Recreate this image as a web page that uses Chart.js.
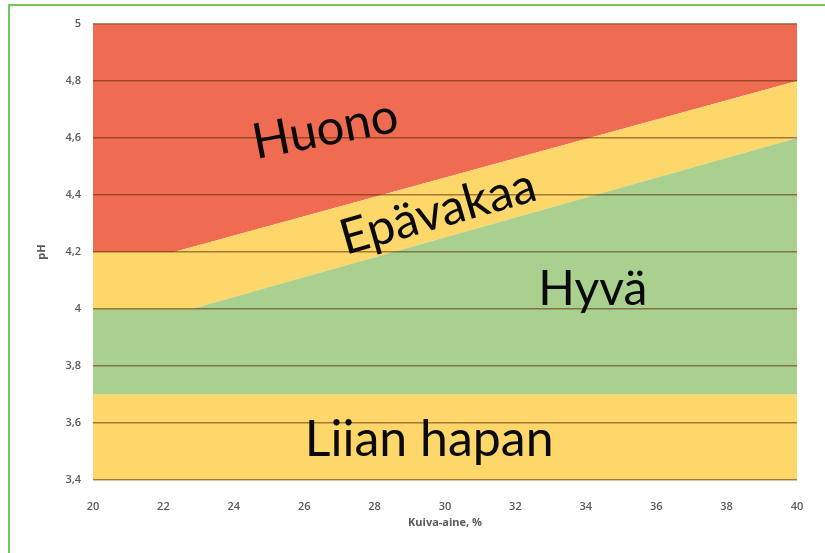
<!DOCTYPE html>
<html>
<head>
<meta charset="utf-8">
<script src="https://cdn.jsdelivr.net/npm/chart.js@4.4.1/dist/chart.umd.min.js"></script>
<style>
  html, body { margin: 0; padding: 0; background: #fff; }
  #wrap { position: relative; width: 825px; height: 553px; overflow: hidden; }
  #frame { position: absolute; left: 8px; top: 4px; width: 830px; height: 560px;
           border-left: 2px solid #76c45f; border-top: 2px solid #76c45f; pointer-events: none; }
  canvas { position: absolute; left: 0; top: 0; }
</style>
</head>
<body>
<div id="wrap">
  <canvas id="phChart" width="825" height="553"></canvas>
  <div id="frame"></div>
</div>
<script>
// Axis ticks
const xTickLabels = ['20', '22', '24', '26', '28', '30', '32', '34', '36', '38', '40'];
const yTickLabels = ['3,4', '3,6', '3,8', '4', '4,2', '4,4', '4,6', '4,8', '5'];

// Zone boundaries (kuiva-aine %, pH)
const acidX = [20, 40];          // top of "Liian hapan"
const acidY = [3.7, 3.7];
const goodX = [20, 22.8, 40];    // top of "Hyvä"
const goodY = [4.0, 4.0, 4.6];
const unstableX = [20, 22.3, 40]; // top of "Epävakaa"
const unstableY = [4.2, 4.2, 4.8];
const topX = [20, 40];           // top of "Huono"
const topY = [5, 5];

// Zone names
const zoneNames = ['Huono', 'Epävakaa', 'Hyvä', 'Liian hapan'];

const RED = '#ef6c53';
const YELLOW = '#fdd76a';
const GREEN = '#a9d08e';

function pts(xs, ys) {
  return xs.map((x, i) => ({ x: x, y: ys[i] }));
}

function zone(data, color, fill) {
  return {
    data: data,
    backgroundColor: color,
    borderColor: 'rgba(0,0,0,0)',
    borderWidth: 0,
    pointRadius: 0,
    showLine: true,
    fill: fill,
    tension: 0
  };
}

// Labels drawn on top of the zones (placed in data coordinates)
const zoneLabels = {
  id: 'zoneLabels',
  afterDraw(chart) {
    const { ctx, scales } = chart;
    const spots = [
      { x: 26.6, y: 4.63, rot: -11, size: 49 },
      { x: 29.8, y: 4.34, rot: -16, size: 49 },
      { x: 34.2, y: 4.07, rot: 0, size: 48 },
      { x: 29.55, y: 3.54, rot: 0, size: 50 }
    ];
    ctx.save();
    ctx.fillStyle = '#0a0a0a';
    ctx.textAlign = 'center';
    ctx.textBaseline = 'middle';
    zoneNames.forEach((name, i) => {
      const s = spots[i];
      ctx.font = s.size + 'px Lato, "Open Sans", sans-serif';
      ctx.save();
      ctx.translate(scales.x.getPixelForValue(s.x), scales.y.getPixelForValue(s.y));
      ctx.rotate(s.rot * Math.PI / 180);
      ctx.fillText(name, 0, 0);
      ctx.restore();
    });
    ctx.restore();
  }
};

const ctx = document.getElementById('phChart').getContext('2d');
new Chart(ctx, {
  type: 'scatter',
  data: {
    datasets: [
      zone(pts(acidX, acidY), YELLOW, 'start'),
      zone(pts(goodX, goodY), GREEN, '-1'),
      zone(pts(unstableX, unstableY), YELLOW, '-1'),
      zone(pts(topX, topY), RED, '-1')
    ]
  },
  options: {
    responsive: false,
    animation: false,
    layout: { padding: { left: 30, top: 24, right: 28, bottom: 0 } },
    plugins: {
      legend: { display: false },
      tooltip: { enabled: false }
    },
    scales: {
      x: {
        type: 'linear',
        min: 20,
        max: 40,
        afterFit(scale) { scale.height = 73; },
        grid: { display: false },
        border: { display: false },
        ticks: {
          stepSize: 2,
          padding: 12,
          color: '#595959',
          font: { family: '"Open Sans", sans-serif', size: 11, weight: '600' },
          callback: (v, i) => xTickLabels[i]
        },
        title: {
          display: true,
          text: 'Kuiva-aine, %',
          color: '#595959',
          font: { family: '"Open Sans", sans-serif', size: 11, weight: 'bold' },
          padding: { top: 0, bottom: 24 }
        }
      },
      y: {
        min: 3.4,
        max: 5,
        afterFit(scale) { scale.width = 63; },
        border: { display: false },
        grid: {
          z: 1,
          color: 'rgba(95,40,0,0.55)',
          lineWidth: 1.5,
          drawTicks: false
        },
        ticks: {
          stepSize: 0.2,
          padding: 12,
          color: '#595959',
          font: { family: '"Open Sans", sans-serif', size: 11, weight: '600' },
          callback: (v, i) => yTickLabels[i]
        },
        title: {
          display: true,
          text: 'pH',
          color: '#595959',
          font: { family: '"Open Sans", sans-serif', size: 11, weight: 'bold' },
          padding: { top: 5, bottom: 0 }
        }
      }
    }
  },
  plugins: [zoneLabels]
});
</script>
</body>
</html>
